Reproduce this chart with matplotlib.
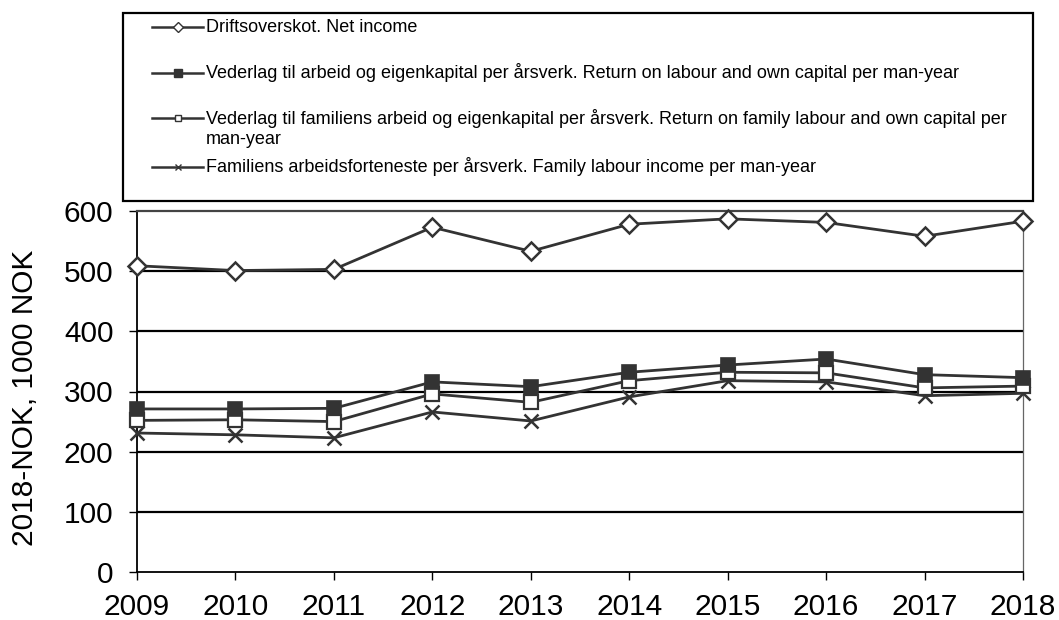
import matplotlib
matplotlib.use("Agg")
import matplotlib.pyplot as plt
from matplotlib.patches import Rectangle
from matplotlib.lines import Line2D

years = [2009, 2010, 2011, 2012, 2013, 2014, 2015, 2016, 2017, 2018]
net_income = [509, 501, 503, 573, 533, 578, 587, 581, 558, 583]
return_labour_capital = [271, 271, 272, 316, 308, 332, 344, 354, 328, 323]
return_family_labour_capital = [252, 253, 250, 296, 282, 318, 332, 331, 306, 309]
family_labour_income = [231, 228, 223, 266, 251, 291, 318, 316, 293, 297]

labels = [
    "Driftsoverskot. Net income",
    "Vederlag til arbeid og eigenkapital per årsverk. Return on labour and own capital per man-year",
    "Vederlag til familiens arbeid og eigenkapital per årsverk. Return on family labour and own capital per\nman-year",
    "Familiens arbeidsforteneste per årsverk. Family labour income per man-year",
]
y_ticks = [0, 100, 200, 300, 400, 500, 600]
y_label = "2018-NOK, 1000 NOK"

plt.rcParams['font.family'] = ['Liberation Sans', 'DejaVu Sans']

W, H = 1059, 620
fig = plt.figure(figsize=(W / 100, H / 100), dpi=100)
fig.patch.set_facecolor('white')

def fx(px):
    return px / W

def fy(py):
    return 1 - py / H

ax = fig.add_axes([fx(137), fy(572), fx(1023) - fx(137), fy(211) - fy(572)])

lc = '#333333'
styles = [
    dict(marker='D', markersize=9.5, markerfacecolor='white', markeredgecolor=lc, markeredgewidth=1.8),
    dict(marker='s', markersize=10.5, markerfacecolor=lc, markeredgecolor=lc, markeredgewidth=1.2),
    dict(marker='s', markersize=9.5, markerfacecolor='white', markeredgecolor=lc, markeredgewidth=1.6),
    dict(marker='x', markersize=10, markeredgecolor=lc, markeredgewidth=1.8),
]
series = [net_income, return_labour_capital, return_family_labour_capital, family_labour_income]
zorders = [6, 7, 6.5, 6.2]
for vals, st, z in zip(series, styles, zorders):
    ax.plot(years, vals, color=lc, linewidth=2.0, clip_on=False, zorder=z, **st)

ax.set_xlim(2009, 2018)
ax.set_ylim(0, 600)
ax.set_xticks(years)
ax.set_yticks(y_ticks)
ax.tick_params(axis='both', labelsize=21.5, direction='out', length=6, width=1, color='black')
ax.tick_params(axis='y', pad=11)
ax.tick_params(axis='x', pad=9)
for yv in y_ticks[1:-1]:
    ax.axhline(yv, color='black', linewidth=1.6, zorder=2)

ax.spines['left'].set_color('black')
ax.spines['left'].set_linewidth(1.3)
ax.spines['bottom'].set_color('black')
ax.spines['bottom'].set_linewidth(1.3)
ax.spines['top'].set_color('#444444')
ax.spines['top'].set_linewidth(1.6)
ax.spines['right'].set_color('#666666')
ax.spines['right'].set_linewidth(0.9)

fig.text(fx(25), fy(398), y_label, rotation=90, fontsize=21.5,
         ha='center', va='center')

# legend box
fig.add_artist(Rectangle((fx(123), fy(201)), fx(1033) - fx(123), fy(13) - fy(201),
                         transform=fig.transFigure, fill=False, edgecolor='black',
                         linewidth=1.6))
leg_y = [27, 73, 118, 167]
for lab, st, yy in zip(labels, styles, leg_y):
    st2 = dict(st)
    st2['markersize'] = st['markersize'] * 0.5
    st2['markeredgewidth'] = 1.0
    fig.add_artist(Line2D([fx(152), fx(177.5), fx(203)], [fy(yy)] * 3, transform=fig.transFigure,
                          color=lc, linewidth=1.8, markevery=[1], **st2))
    for i, line in enumerate(lab.split('\n')):
        fig.text(fx(206), fy(yy + 22 * i), line, fontsize=13, ha='left', va='center')

fig.savefig('out.png', dpi=100)
